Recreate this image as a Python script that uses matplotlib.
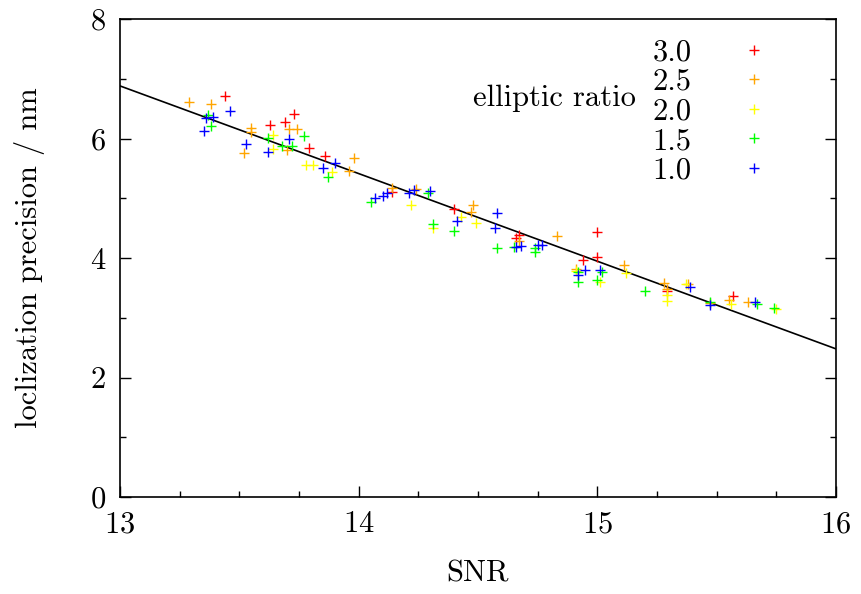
import numpy as np
import matplotlib
matplotlib.use("Agg")
import matplotlib.pyplot as plt
from matplotlib.ticker import MultipleLocator

plt.rcParams['font.family'] = ['cmr10', 'DejaVu Serif']
plt.rcParams['axes.formatter.use_mathtext'] = True
plt.rcParams['mathtext.fontset'] = 'cm'

# data: (SNR, localization precision) per elliptic ratio
r30_x = [13.44, 13.73, 13.63, 13.69, 13.79, 13.86, 14.14, 14.40, 14.67, 14.66, 15.00, 15.00, 14.94, 15.57, 15.29]
r30_y = [6.71, 6.41, 6.23, 6.28, 5.84, 5.71, 5.10, 4.82, 4.38, 4.33, 4.43, 4.02, 3.97, 3.36, 3.45]

r25_x = [13.29, 13.38, 13.55, 13.55, 13.71, 13.74, 13.70, 13.52, 13.98, 13.96, 14.14, 14.24, 14.48, 14.47,
         14.67, 14.83, 14.91, 15.11, 15.28, 15.29, 15.38, 15.47, 15.55, 15.63]
r25_y = [6.61, 6.58, 6.18, 6.11, 6.16, 6.16, 5.81, 5.76, 5.67, 5.46, 5.17, 5.15, 4.89, 4.77,
         4.28, 4.37, 3.82, 3.88, 3.58, 3.48, 3.57, 3.24, 3.30, 3.26]

r20_x = [13.64, 13.64, 13.78, 13.81, 13.89, 14.22, 14.43, 14.49, 14.31, 15.01, 15.12, 15.29, 15.29, 15.37,
         15.56, 15.75, 14.91]
r20_y = [6.06, 5.82, 5.56, 5.56, 5.44, 4.89, 4.69, 4.59, 4.50, 3.60, 3.75, 3.38, 3.28, 3.56,
         3.23, 3.15, 3.78]

r15_x = [13.37, 13.38, 13.77, 13.62, 13.68, 13.72, 13.87, 14.05, 14.29, 14.31, 14.40, 14.58, 14.65, 14.74,
         14.74, 14.92, 14.92, 15.02, 15.00, 15.20, 15.47, 15.67, 15.74]
r15_y = [6.39, 6.21, 6.04, 6.01, 5.87, 5.87, 5.36, 4.94, 5.09, 4.57, 4.45, 4.17, 4.18, 4.17,
         4.10, 3.77, 3.60, 3.77, 3.63, 3.45, 3.26, 3.23, 3.16]

r10_x = [13.46, 13.36, 13.39, 13.35, 13.71, 13.53, 13.62, 13.90, 13.85, 14.12, 14.10, 14.07, 14.23, 14.21,
         14.30, 14.41, 14.58, 14.57, 14.66, 14.68, 14.75, 14.77, 14.95, 14.92, 15.01, 15.39, 15.47, 15.66]
r10_y = [6.46, 6.34, 6.36, 6.13, 5.99, 5.91, 5.77, 5.59, 5.51, 5.09, 5.04, 5.00, 5.14, 5.09,
         5.12, 4.62, 4.75, 4.50, 4.18, 4.20, 4.22, 4.22, 3.80, 3.72, 3.80, 3.51, 3.21, 3.26]

labels = ['3.0', '2.5', '2.0', '1.5', '1.0']
colors = ['#ff0000', '#ffa500', '#ffff00', '#00ff00', '#0000ff']

fit_slope = -1.467
fit_x0 = 13.0
fit_y0 = 6.88

FS = 22

fig = plt.figure(figsize=(8.61, 5.94), dpi=100)
ax = fig.add_axes([120/861, 1-497/594, (836-120)/861, (497-19)/594])

series = [(r30_x, r30_y), (r25_x, r25_y), (r20_x, r20_y), (r15_x, r15_y), (r10_x, r10_y)]
for (xs, ys), lab, c in zip(series, labels, colors):
    ax.plot(xs, ys, linestyle='none', marker='+', markersize=7, markeredgewidth=1.0,
            color=c, label=lab)

ax.set_xlim(13, 16)
ax.set_ylim(0, 8)
xl = np.array(ax.get_xlim())
ax.plot(xl, fit_y0 + fit_slope * (xl - fit_x0), color='black', linewidth=1.2, zorder=1)

ax.xaxis.set_major_locator(MultipleLocator(1))
ax.xaxis.set_minor_locator(MultipleLocator(0.25))
ax.yaxis.set_major_locator(MultipleLocator(2))
ax.yaxis.set_minor_locator(MultipleLocator(1))
ax.tick_params(which='both', direction='in', right=True, top=False, labelsize=FS, width=1.0)
ax.tick_params(which='major', length=8, pad=10)
ax.tick_params(which='minor', length=4)
for s in ax.spines.values():
    s.set_linewidth(1.2)

ax.set_xlabel('SNR', fontsize=FS, labelpad=16)
ax.set_ylabel('loclization precision / nm', fontsize=FS, labelpad=32)

leg = ax.legend(loc='upper right', bbox_to_anchor=(0.937, 1.0), markerfirst=False, frameon=False,
                fontsize=FS, handlelength=1.1, handletextpad=1.5, labelspacing=0.07,
                borderaxespad=0.25)
ax.text(0.721, 0.835, 'elliptic ratio', transform=ax.transAxes, fontsize=FS,
        ha='right', va='center')

fig.savefig('out.png', dpi=100)
